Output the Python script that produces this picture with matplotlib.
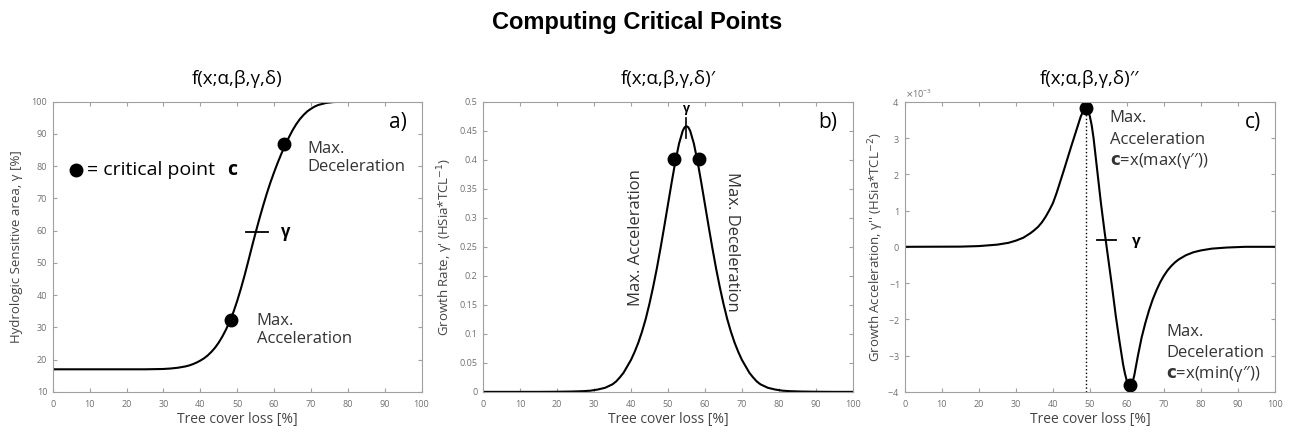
import matplotlib
matplotlib.use("Agg")
import matplotlib.pyplot as plt
from matplotlib.ticker import FuncFormatter, ScalarFormatter

plt.rcParams['font.family'] = ['Open Sans', 'DejaVu Sans']
plt.rcParams['axes.unicode_minus'] = False

# --- data ---
# a) sigmoid  f(x)
xa = [0, 10, 20, 25, 30, 32, 34, 35, 36, 37, 38, 39, 40, 41, 42, 43, 44, 45,
      46, 47, 48, 49, 50, 51, 52, 53, 54, 55, 56, 57, 58, 59, 60, 61, 62, 63,
      64, 65, 66, 67, 68, 69, 70, 71, 72, 74, 76, 78, 80, 90, 100]
ya = [17, 17, 17, 17, 17.1, 17.25, 17.5, 17.7, 17.9, 18.2, 18.6, 19.1, 19.7,
      20.4, 21.3, 22.4, 23.7, 25.3, 27.2, 29.4, 31.9, 34.8, 38.2, 42, 46.1,
      50.5, 55, 59.4, 63.6, 67.6, 71.4, 74.9, 78.1, 81.1, 83.9, 86.5, 88.9,
      91.1, 93, 94.6, 95.9, 97, 97.8, 98.5, 99, 99.6, 99.9, 100, 100, 100, 100]
crit_a_x = [48.2, 62.8]
crit_a_y = [32.3, 86.8]

# b) first derivative  f'(x)
xb = [0, 15, 20, 24, 27, 29, 31, 33, 35, 36, 37, 38, 39, 40, 41, 42, 43, 44,
      45, 46, 47, 48, 49, 50, 51, 52, 53, 54, 54.5, 55, 55.5, 56, 57, 58, 59,
      60, 61, 62, 63, 64, 65, 66, 67, 68, 69, 70, 71, 72, 73, 74, 75, 77, 79,
      81, 83, 86, 90, 95, 100]
yb = [0, 0, 0.0002, 0.0006, 0.0012, 0.002, 0.004, 0.007, 0.013, 0.018, 0.025,
      0.033, 0.044, 0.055, 0.069, 0.085, 0.104, 0.126, 0.152, 0.181, 0.213,
      0.248, 0.285, 0.323, 0.361, 0.397, 0.428, 0.450, 0.456, 0.458, 0.456,
      0.450, 0.428, 0.397, 0.361, 0.323, 0.285, 0.248, 0.213, 0.181, 0.152,
      0.126, 0.104, 0.085, 0.069, 0.055, 0.044, 0.033, 0.025, 0.018, 0.013,
      0.007, 0.004, 0.002, 0.0012, 0.0006, 0.0002, 0, 0]
crit_b_x = [51.5, 58.3]
crit_b_y = [0.401, 0.401]

# c) second derivative  f''(x), in units of 1e-3
xc = [0, 15, 20, 25, 28, 30, 32, 34, 35, 36, 37, 38, 39, 40, 41, 42, 43, 44,
      45, 46, 47, 47.5, 48, 48.5, 49, 49.5, 50, 50.5, 51, 52, 53, 54, 55, 56,
      57, 58, 59, 59.5, 60, 60.5, 61, 61.5, 62, 63, 64, 65, 66, 67, 68, 69,
      70, 71, 72, 73, 74, 76, 78, 80, 83, 87, 92, 100]
yc = [0, 0.005, 0.02, 0.06, 0.11, 0.17, 0.25, 0.38, 0.46, 0.55, 0.67, 0.82,
      1.0, 1.2, 1.48, 1.8, 2.12, 2.45, 2.78, 3.1, 3.42, 3.58, 3.7, 3.79, 3.83,
      3.77, 3.6, 3.35, 3.0, 2.1, 1.2, 0.4, -0.35, -1.1, -1.9, -2.6, -3.25,
      -3.5, -3.7, -3.8, -3.83, -3.75, -3.55, -3.0, -2.5, -2.1, -1.75, -1.45,
      -1.2, -0.98, -0.8, -0.65, -0.53, -0.43, -0.35, -0.23, -0.15, -0.1,
      -0.05, -0.02, 0, 0]
crit_c_x = [49, 60.8]
crit_c_y = [3.83, -3.82]

fig = plt.figure(figsize=(12.89, 4.33), dpi=100)
fig.text(0.494, 0.949, 'Computing Critical Points', ha='center', va='center',
         fontsize=17, fontweight='bold', family='Liberation Sans')

frame = '#a0a0a0'
tcol = '#707070'
lab = '#444444'
ann = '#333333'

def style(ax):
    for s in ax.spines.values():
        s.set_color(frame)
        s.set_linewidth(0.8)
    ax.tick_params(direction='in', top=True, right=True, length=3,
                   color=frame, labelcolor=tcol, labelsize=6.5, pad=4)
    ax.tick_params(axis='x', pad=6)
    ax.set_xlim(0, 100)
    ax.set_xticks(range(0, 101, 10))
    ax.set_xlabel('Tree cover loss [%]', fontsize=10, color=lab, labelpad=2)

g = FuncFormatter(lambda v, p: '%g' % v)

# ---- a)
ax1 = fig.add_axes([0.041, 0.095, 0.286, 0.67])
style(ax1)
ax1.plot(xa, ya, color='black', lw=1.5)
ax1.plot(crit_a_x, crit_a_y, 'o', color='black', ms=9)
ax1.set_ylim(10, 100)
ax1.set_yticks(range(10, 101, 10))
ax1.set_ylabel('Hydrologic Sensitive area, γ [%]', fontsize=9.5, color=lab, labelpad=6)
ax1.set_title('f(x;α,β,γ,δ)', fontsize=13.5, pad=13)
ax1.plot([52.5, 58.4], [59.7, 59.7], color='black', lw=1.3)
ax1.text(61.5, 59.5, 'γ', fontsize=12, fontweight='bold', va='center')
ax1.plot([6.2], [78.9], 'o', color='black', ms=9)
ax1.text(9.3, 78.9, '= critical point', fontsize=14, va='center')
ax1.text(47.3, 78.9, 'c', fontsize=14, fontweight='bold', va='center')
ax1.text(69, 82.5, 'Max.\nDeceleration', fontsize=12, va='center', color=ann, linespacing=1.15)
ax1.text(55.3, 29.3, 'Max.\nAcceleration', fontsize=12, va='center', color=ann, linespacing=1.15)
ax1.text(93.5, 93.5, 'a)', fontsize=15, ha='center', va='center')

# ---- b)
ax2 = fig.add_axes([0.3747, 0.095, 0.287, 0.67])
style(ax2)
ax2.plot(xb, yb, color='black', lw=1.5)
ax2.plot(crit_b_x, crit_b_y, 'o', color='black', ms=9)
ax2.set_ylim(0, 0.5)
ax2.set_yticks([i * 0.05 for i in range(11)])
ax2.yaxis.set_major_formatter(g)
ax2.set_ylabel("Growth Rate, γ' (HSia*TCL$^{-1}$)", fontsize=9.5, color=lab, labelpad=3)
ax2.set_title('f(x;α,β,γ,δ)′', fontsize=13.5, pad=13)
ax2.plot([55, 55], [0.438, 0.472], color='black', lw=1.2)
ax2.text(55, 0.488, 'γ', fontsize=9, fontweight='bold', ha='center', va='center')
ax2.text(41.3, 0.266, 'Max. Acceleration', fontsize=12, rotation=90,
         ha='center', va='center', color=ann)
ax2.text(67.2, 0.259, 'Max. Deceleration', fontsize=12, rotation=-90,
         ha='center', va='center', color=ann)
ax2.text(93.2, 0.464, 'b)', fontsize=15, ha='center', va='center')

# ---- c)
ax3 = fig.add_axes([0.702, 0.095, 0.287, 0.67])
style(ax3)
ax3.plot(xc, [v * 1e-3 for v in yc], color='black', lw=1.5)
ax3.plot(crit_c_x, [v * 1e-3 for v in crit_c_y], 'o', color='black', ms=9)
ax3.plot([crit_c_x[0], crit_c_x[0]], [-4e-3, crit_c_y[0] * 1e-3], ':', color='black', lw=1)
ax3.set_ylim(-4e-3, 4e-3)
ax3.set_yticks([i * 1e-3 for i in range(-4, 5)])
fmt = ScalarFormatter(useMathText=True)
fmt.set_powerlimits((-2, 2))
ax3.yaxis.set_major_formatter(fmt)
ax3.yaxis.get_offset_text().set_fontsize(6.5)
ax3.yaxis.get_offset_text().set_color(tcol)
ax3.set_ylabel("Growth Acceleration, γ'' (HSia*TCL$^{-2}$)", fontsize=9.5, color=lab, labelpad=1)
ax3.set_title('f(x;α,β,γ,δ)′′', fontsize=13.5, pad=13)
ax3.plot([51.8, 57.2], [0.2e-3, 0.2e-3], color='black', lw=1.3)
ax3.text(61.3, 0.15e-3, 'γ', fontsize=11, fontweight='bold', va='center')
ax3.text(55.4, 3.56e-3, 'Max.', fontsize=12, va='center', color=ann)
ax3.text(55.4, 2.95e-3, 'Acceleration', fontsize=12, va='center', color=ann)
ax3.text(55.4, 2.36e-3, r'$\mathbf{c}$=x(max(γ′′))', fontsize=12, va='center', color=ann)
ax3.text(70.7, -2.34e-3, 'Max.', fontsize=12, va='center', color=ann)
ax3.text(70.7, -2.93e-3, 'Deceleration', fontsize=12, va='center', color=ann)
ax3.text(70.7, -3.52e-3, r'$\mathbf{c}$=x(min(γ′′))', fontsize=12, va='center', color=ann)
ax3.text(94, 3.43e-3, 'c)', fontsize=15, ha='center', va='center')

fig.savefig('out.png', dpi=100)
